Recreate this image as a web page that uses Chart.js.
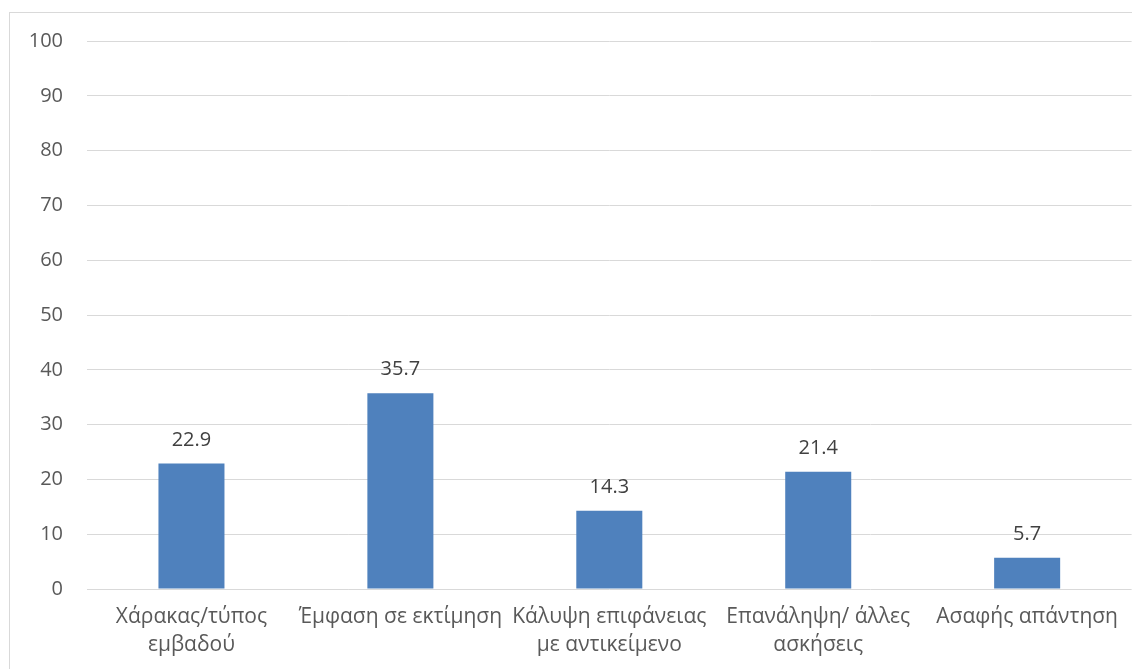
<!DOCTYPE html>
<html>
<head>
<meta charset="utf-8">
<script src="https://cdn.jsdelivr.net/npm/chart.js@4/dist/chart.umd.min.js"></script>
<style>
  html, body { margin: 0; padding: 0; background: #ffffff; }
  #wrap { position: relative; width: 1132px; height: 669px; overflow: hidden; }
  #frame { position: absolute; left: 9px; top: 12px; width: 1200px; height: 700px; border: 1px solid #d9d9d9; box-sizing: border-box; }
  canvas { position: absolute; left: 0; top: 0; }
</style>
</head>
<body>
<div id="wrap">
  <div id="frame"></div>
  <canvas id="c" width="1132" height="669"></canvas>
</div>
<script>
// Categories (two-line labels) and percentages
const categories = [
  ["Χάρακας/τύπος", "εμβαδού"],
  ["Έμφαση σε εκτίμηση"],
  ["Κάλυψη επιφάνειας", "με αντικείμενο"],
  ["Επανάληψη/ άλλες", "ασκήσεις"],
  ["Ασαφής απάντηση"]
];
const values = [22.9, 35.7, 14.3, 21.4, 5.7];
const yTicks = [0, 10, 20, 30, 40, 50, 60, 70, 80, 90, 100];

const FONT = "'Open Sans', 'Noto Sans', sans-serif";

// Writes each bar's value above it
const valueLabels = {
  id: 'valueLabels',
  afterDatasetsDraw(chart) {
    const ctx = chart.ctx;
    const meta = chart.getDatasetMeta(0);
    ctx.save();
    ctx.font = "20px " + FONT;
    ctx.fillStyle = '#404040';
    ctx.textAlign = 'center';
    ctx.textBaseline = 'alphabetic';
    meta.data.forEach((bar, i) => {
      ctx.fillText(values[i].toFixed(1), bar.x, bar.y - 18);
    });
    ctx.restore();
  }
};

new Chart(document.getElementById('c'), {
  type: 'bar',
  data: {
    labels: categories,
    datasets: [{
      data: values,
      backgroundColor: '#4f81bd',
      borderWidth: 0,
      categoryPercentage: 1.0,
      barPercentage: 0.316
    }]
  },
  options: {
    responsive: false,
    animation: false,
    events: [],
    layout: { padding: { left: 0, right: 0, top: 41, bottom: 0 } },
    plugins: { legend: { display: false }, tooltip: { enabled: false } },
    scales: {
      x: {
        grid: { display: false, drawTicks: false },
        border: { display: false },
        ticks: {
          color: '#595959',
          font: { family: FONT, size: 21, lineHeight: 1.33 },
          padding: 14,
          maxRotation: 0,
          autoSkip: false
        },
        afterFit(scale) { scale.height = 80; }
      },
      y: {
        min: 0,
        max: 100,
        afterBuildTicks(scale) { scale.ticks = yTicks.map(v => ({ value: v })); },
        grid: { color: '#d9d9d9', lineWidth: 1, drawTicks: false },
        border: { display: false },
        ticks: {
          color: '#595959',
          font: { family: FONT, size: 20 },
          padding: 24
        },
        afterFit(scale) { scale.width = 87; }
      }
    }
  },
  plugins: [valueLabels]
});
</script>
</body>
</html>
